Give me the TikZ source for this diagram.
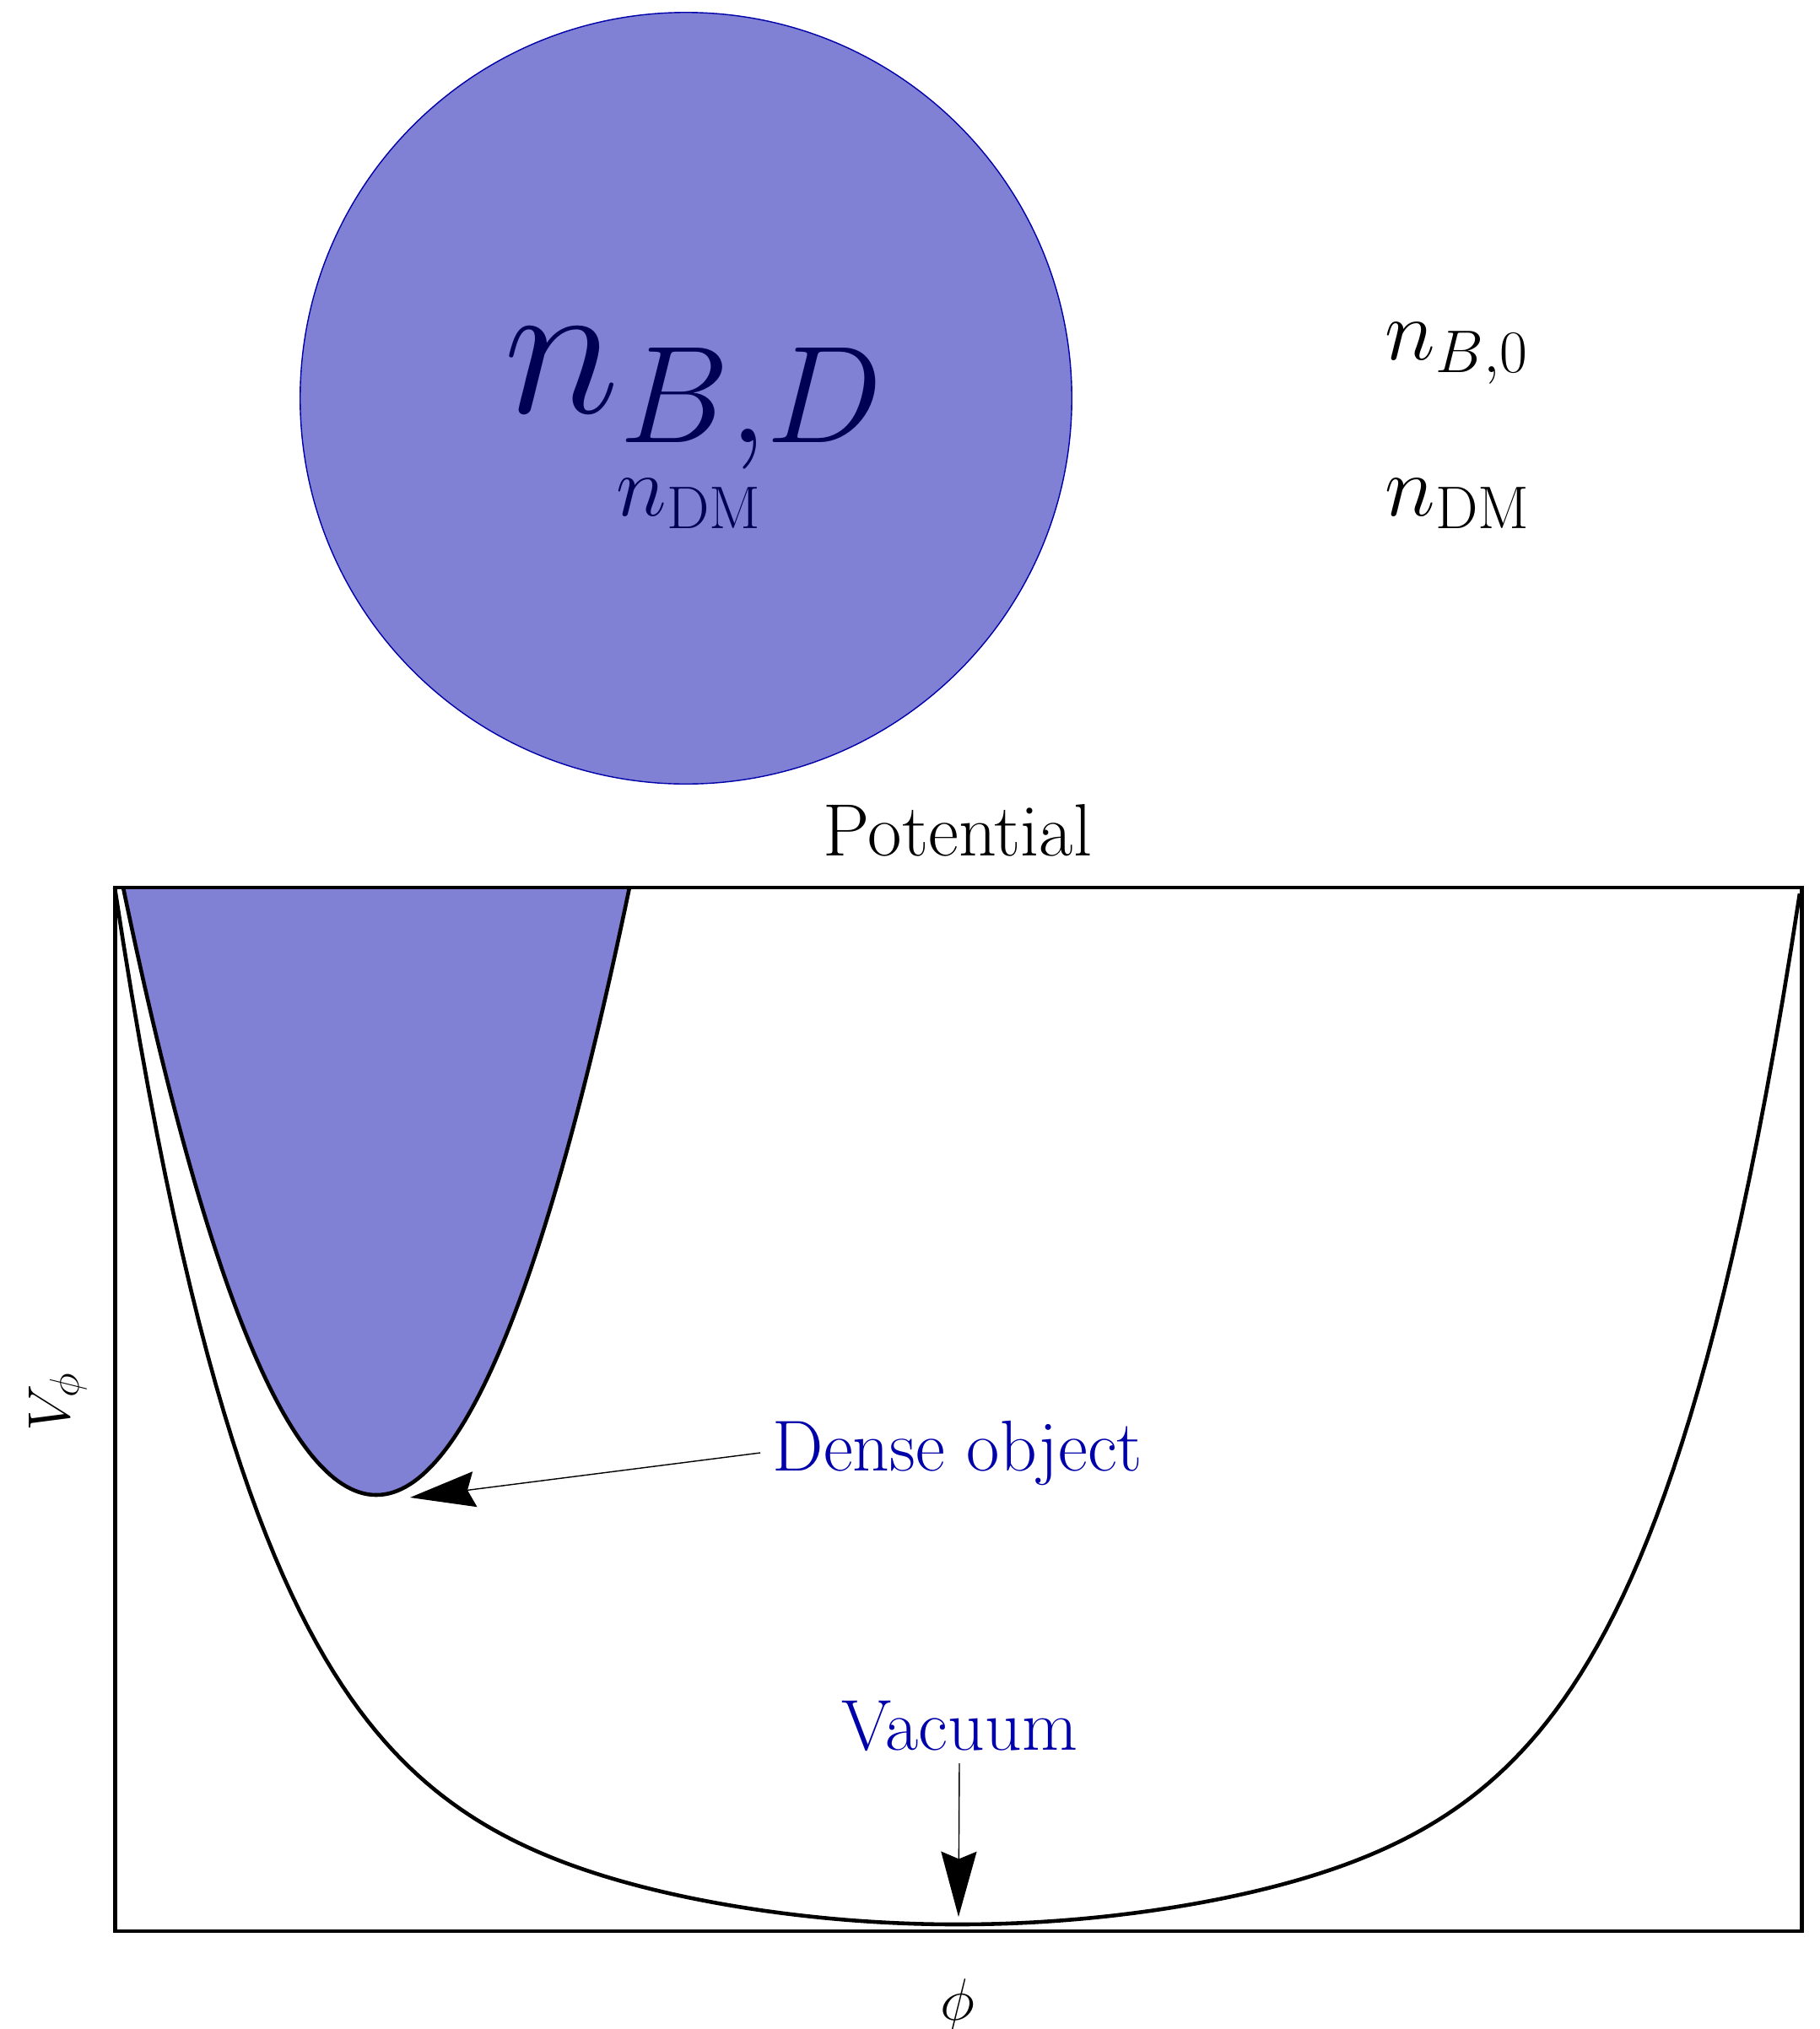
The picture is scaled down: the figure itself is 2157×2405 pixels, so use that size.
\RequirePackage{fix-cm}
\documentclass[tikz,border=0pt]{standalone}
\usepackage{xcolor}
\definecolor{objblue}{RGB}{0,0,170}
\definecolor{objfill}{RGB}{128,128,212}
\definecolor{objtext}{RGB}{0,0,85}
\usepackage{tikz}
\usetikzlibrary{arrows.meta}

\begin{document}
\begin{tikzpicture}[x=0.01cm,y=-0.01cm,>={Stealth[length=22pt,width=12pt,inset=2.5pt]},
  every node/.style={inner sep=4pt},
  curve/.style={black,line width=1.3pt},
  pointer/.style={->,black,line width=0.4pt},
  label/.style={objblue,font=\fontsize{24.3}{28}\selectfont},
  axislabel/.style={font=\fontsize{20}{24}\selectfont},
  density/.style={font=\fontsize{29}{34}\selectfont,inner sep=0pt}]
\useasboundingbox (0,0) rectangle (2157,2405);
\node[circle,draw=objblue,fill=objfill,line width=0.4pt,minimum size=9.14cm,inner sep=0pt] (star) at (813,472) {};
\node[objtext,anchor=base,inner sep=0pt,font=\fontsize{66.6}{72}\selectfont] (nbd) at (823,489) {$n_{B,D}$};
\node[objtext,anchor=base,density] (ndmin) at (817,611) {$n_{\mathrm{DM}}$};
\node[anchor=base,density] (nb0) at (1727,426) {$n_{B,0}$};
\node[anchor=base,density] (ndmout) at (1728,611) {$n_{\mathrm{DM}}$};
\node[anchor=base,font=\fontsize{25}{30}\selectfont] (title) at (1135,1014) {Potential};
\fill[objfill] plot[domain=-1:1,samples=121] ({446+300*\x},{1772-720*\x*\x}) -- cycle;
\draw[curve] plot[domain=-1:1,samples=121] ({446+300*\x},{1772-720*\x*\x});
\draw[curve] plot[domain=-1:1,samples=201] ({1135+999*\x},{2281-1229*(0.25*\x*\x+0.75*(\x*\x)^3*sqrt(abs(\x)))});
\draw[black,line width=1.2pt] (136.5,1052) rectangle (2135.5,2289);
\node[label,anchor=base] (dense) at (1135,1743) {Dense object};
\node[label,anchor=base] (vac) at (1137,2074) {Vacuum};
\coordinate (densetip) at (486,1775);
\coordinate (vactip) at (1136,2272);
\draw[pointer] (dense.west) -- (densetip);
\draw[pointer] (vac.south) -- (vactip);
\node[axislabel,rotate=90] (vlabel) at (69,1661) {$V_\phi$};
\node[axislabel] (philabel) at (1135,2377) {$\phi$};
\end{tikzpicture}
\end{document}
